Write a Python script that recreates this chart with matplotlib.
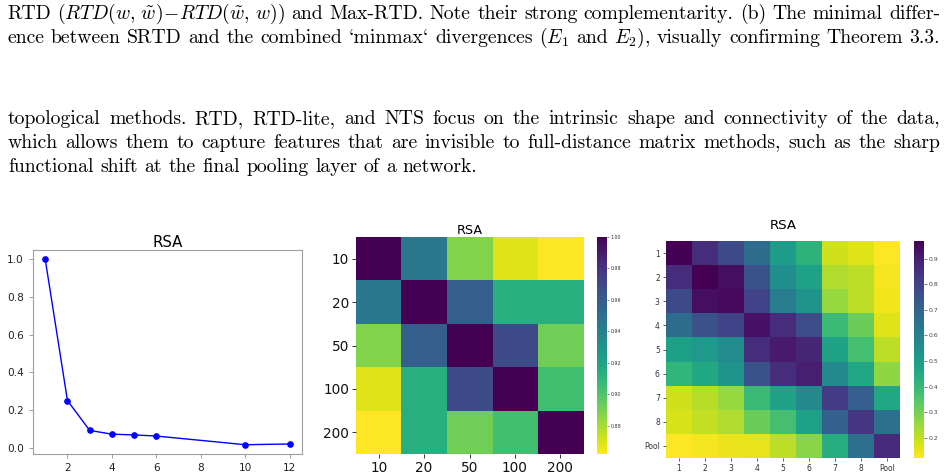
import matplotlib
matplotlib.use("Agg")
import matplotlib.pyplot as plt
import numpy as np

plt.rcParams['mathtext.fontset'] = 'cm'

# ---------------- data ----------------
layers = [1, 2, 3, 4, 5, 6, 10, 12]
rsa_line = [1.0, 0.25, 0.092, 0.072, 0.068, 0.062, 0.016, 0.020]

size_labels = ['10', '20', '50', '100', '200']
rsa_sizes = [
    [1.000, 0.945, 0.888, 0.869, 0.862],
    [0.945, 1.000, 0.958, 0.913, 0.913],
    [0.888, 0.958, 1.000, 0.968, 0.892],
    [0.869, 0.913, 0.968, 1.000, 0.904],
    [0.862, 0.913, 0.892, 0.904, 1.000],
]

layer_labels = ['1', '2', '3', '4', '5', '6', '7', '8', 'Pool']
rsa_layers = [
    [0.97, 0.86, 0.78, 0.67, 0.50, 0.42, 0.18, 0.16, 0.12],
    [0.86, 0.97, 0.94, 0.76, 0.545, 0.485, 0.22, 0.205, 0.13],
    [0.78, 0.94, 0.95, 0.80, 0.61, 0.53, 0.25, 0.205, 0.137],
    [0.67, 0.76, 0.80, 0.93, 0.86, 0.77, 0.39, 0.31, 0.16],
    [0.49, 0.51, 0.56, 0.86, 0.91, 0.88, 0.48, 0.375, 0.205],
    [0.41, 0.46, 0.53, 0.76, 0.86, 0.90, 0.57, 0.46, 0.265],
    [0.18, 0.21, 0.25, 0.39, 0.48, 0.57, 0.82, 0.715, 0.46],
    [0.17, 0.197, 0.22, 0.31, 0.37, 0.485, 0.71, 0.84, 0.655],
    [0.12, 0.13, 0.145, 0.15, 0.205, 0.27, 0.44, 0.655, 0.87],
]

caption_lines = [
    r"RTD $(RTD(w,\,\tilde{w})\!-\!RTD(\tilde{w},\,w))$ and Max-RTD. Note their strong complementarity. (b) The minimal differ-",
    r"ence between SRTD and the combined `minmax` divergences $(E_1$ and $E_2)$, visually confirming Theorem 3.3.",
]
para_lines = [
    "topological methods.  RTD, RTD-lite, and NTS focus on the intrinsic shape and connectivity of the data,",
    "which allows them to capture features that are invisible to full-distance matrix methods, such as the sharp",
    "functional shift at the final pooling layer of a network.",
]

# ---------------- figure ----------------
W, H = 947, 476
fig = plt.figure(figsize=(W / 100, H / 100), dpi=100)
renderer = fig.canvas.get_renderer()


def px_axes(l, t, r, b):
    return fig.add_axes([l / W, 1 - b / H, (r - l) / W, (b - t) / H])


def text_width(s, fs):
    t = fig.text(0, 0, s, fontsize=fs, family='cmr10')
    w = t.get_window_extent(renderer).width
    t.remove()
    return w


# calibrate text size so that the last paragraph line has its reference width
fs0 = 10
fs = fs0 * 470 / text_width(para_lines[2], fs0)
space = text_width("a a", fs) - text_width("aa", fs)


def draw_line(s, y_base, x0, x1, justify=True):
    tokens = s.split()
    texts, widths = [], []
    for tk in tokens:
        tx = fig.text(0, 1 - y_base / H, tk, fontsize=fs, family='cmr10',
                      va='baseline', ha='left', color='black')
        texts.append(tx)
        widths.append(tx.get_window_extent(renderer).width)
    gap = (x1 - x0 - sum(widths)) / (len(tokens) - 1) if justify else space
    x = x0
    for tx, w in zip(texts, widths):
        tx.set_x(x / W)
        x += w + gap


draw_line(caption_lines[0], 19, 7, 940)
draw_line(caption_lines[1], 43, 7, 940)
draw_line(para_lines[0], 124, 8, 940)
draw_line(para_lines[1], 148, 8, 940)
draw_line(para_lines[2], 172, 8, 940, justify=False)

# ---------------- line plot ----------------
ax1 = px_axes(33, 250, 302, 454)
ax1.plot(layers, rsa_line, color='blue', marker='o', markersize=3.8, linewidth=1.0)
ax1.set_title('RSA', fontsize=10.8, pad=2)
ax1.set_xticks([2, 4, 6, 8, 10, 12])
ax1.set_yticks([0.0, 0.2, 0.4, 0.6, 0.8, 1.0])
ax1.set_yticklabels(['0.0', '0.2', '0.4', '0.6', '0.8', '1.0'])
for sp in ax1.spines.values():
    sp.set_color('#a0a0a0')
    sp.set_linewidth(0.8)
ax1.tick_params(labelsize=7.6, colors='#a0a0a0', labelcolor='#222222', length=3, width=0.7)

# ---------------- 5x5 heatmap ----------------
ax2 = px_axes(356, 237, 583, 454)
d2 = np.array(rsa_sizes)
im2 = ax2.imshow(d2, cmap='viridis_r', aspect='auto', interpolation='nearest',
                 vmin=d2.min(), vmax=d2.max())
ax2.set_xticks(range(len(size_labels)))
ax2.set_xticklabels(size_labels)
ax2.set_yticks(range(len(size_labels)))
ax2.set_yticklabels(size_labels)
ax2.tick_params(labelsize=9.8, length=3, width=0.7, colors='#333333', labelcolor='#111111', pad=2)
for sp in ax2.spines.values():
    sp.set_visible(False)
ax2.set_title('RSA', fontsize=9.2, pad=1)
cax2 = px_axes(597, 237, 607, 454)
cb2 = fig.colorbar(im2, cax=cax2)
cb2.outline.set_visible(False)
cb2.set_ticks([0.88, 0.90, 0.92, 0.94, 0.96, 0.98, 1.00])
cb2.set_ticklabels(['0.88', '0.90', '0.92', '0.94', '0.96', '0.98', '1.00'])
cb2.ax.tick_params(labelsize=3.4, length=1.5, width=0.4, colors='#333333', pad=1)

# ---------------- 9x9 heatmap ----------------
ax3 = px_axes(666, 241, 900, 458)
d3 = np.array(rsa_layers)
im3 = ax3.imshow(d3, cmap='viridis_r', aspect='auto', interpolation='nearest',
                 vmin=d3.min(), vmax=d3.max())
ax3.set_xticks(range(len(layer_labels)))
ax3.set_xticklabels(layer_labels)
ax3.set_yticks(range(len(layer_labels)))
ax3.set_yticklabels(layer_labels)
ax3.tick_params(labelsize=5.5, length=2.5, width=0.6, colors='#444444', labelcolor='#333333', pad=2)
for sp in ax3.spines.values():
    sp.set_visible(False)
ax3.set_title('RSA', fontsize=9.6, pad=9)
cax3 = px_axes(914, 241, 924, 458)
cb3 = fig.colorbar(im3, cax=cax3)
cb3.outline.set_visible(False)
cb3.set_ticks([0.2, 0.3, 0.4, 0.5, 0.6, 0.7, 0.8, 0.9])
cb3.set_ticklabels(['0.2', '0.3', '0.4', '0.5', '0.6', '0.7', '0.8', '0.9'])
cb3.ax.tick_params(labelsize=4.4, length=2, width=0.5, colors='#444444', pad=1.5)

fig.savefig('out.png', dpi=100)
